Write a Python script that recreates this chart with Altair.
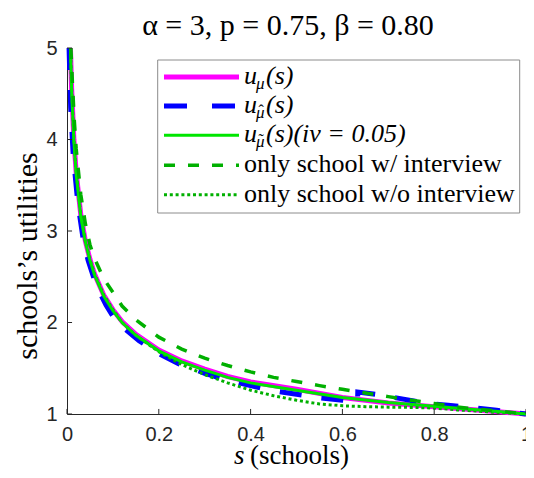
import altair as alt
import pandas as pd

# ---------------- data ----------------
s_mu = [0.0075, 0.01, 0.015, 0.02, 0.03, 0.04, 0.05, 0.06, 0.08, 0.1, 0.12, 0.15,
        0.2, 0.25, 0.3, 0.35, 0.4, 0.5, 0.6, 0.7, 0.8, 0.9, 1.0]
u_mu = [5.0, 4.57, 4.0, 3.64, 3.18, 2.89, 2.69, 2.53, 2.30, 2.14, 2.01, 1.87,
        1.70, 1.58, 1.49, 1.41, 1.35, 1.27, 1.18, 1.12, 1.08, 1.04, 1.0]

s_iv = [0.0075, 0.01, 0.015, 0.02, 0.03, 0.04, 0.05, 0.06, 0.08, 0.1, 0.12, 0.15,
        0.2, 0.25, 0.3, 0.35, 0.4, 0.5, 0.6, 0.7, 0.8, 0.9, 1.0]
u_iv = [5.0, 4.55, 3.98, 3.62, 3.16, 2.88, 2.68, 2.52, 2.29, 2.13, 2.0, 1.86,
        1.69, 1.57, 1.48, 1.40, 1.34, 1.26, 1.18, 1.125, 1.085, 1.045, 1.0]

s_hat = [0.0045, 0.008, 0.0135, 0.0235, 0.035, 0.046, 0.064, 0.085, 0.1, 0.121, 0.157,
         0.2, 0.243, 0.3, 0.343, 0.4, 0.447, 0.5, 0.547, 0.6, 0.633, 0.6335, 0.68,
         0.73, 0.78, 0.83, 0.886, 0.936, 1.0]
u_hat = [5.0, 4.35, 3.83, 3.31, 2.92, 2.68, 2.40, 2.19, 2.07, 1.95, 1.80,
         1.66, 1.55, 1.445, 1.38, 1.31, 1.255, 1.215, 1.18, 1.15, 1.13, 1.24, 1.21,
         1.165, 1.12, 1.095, 1.07, 1.04, 1.0]

s_w = [0.0085, 0.012, 0.016, 0.02, 0.03, 0.04, 0.05, 0.06, 0.08, 0.1, 0.12, 0.15,
       0.2, 0.25, 0.3, 0.35, 0.4, 0.45, 0.5, 0.55, 0.6, 0.65, 0.7, 0.75, 0.8, 0.85,
       0.9, 0.95, 1.0]
u_w = [5.0, 4.6, 4.2, 3.9, 3.4, 3.08, 2.85, 2.70, 2.48, 2.33, 2.18, 2.03,
       1.84, 1.71, 1.61, 1.53, 1.46, 1.40, 1.355, 1.31, 1.27, 1.23, 1.19, 1.15, 1.115,
       1.077, 1.05, 1.028, 1.0]

s_wo = [0.0075, 0.01, 0.015, 0.02, 0.03, 0.04, 0.05, 0.06, 0.08, 0.1, 0.12, 0.15,
        0.2, 0.25, 0.3, 0.35, 0.4, 0.45, 0.5, 0.55, 0.6, 0.65, 0.7, 0.75, 0.8, 0.85,
        0.9, 0.95, 1.0]
u_wo = [5.0, 4.57, 4.0, 3.64, 3.18, 2.89, 2.69, 2.53, 2.30, 2.14, 2.0, 1.86,
        1.68, 1.54, 1.43, 1.34, 1.26, 1.20, 1.15, 1.11, 1.09, 1.08, 1.075, 1.072,
        1.065, 1.045, 1.03, 1.014, 1.0]

x_ticks = [0, 0.2, 0.4, 0.6, 0.8, 1]
y_ticks = [1, 2, 3, 4, 5]

title_text = "α = 3,  p = 0.75,  β = 0.80"
y_title = "schools’s utilities"
legend_plain = ["only school w/ interview", "only school w/o interview"]

# ---------------- chart ----------------
W, H = 459, 366
AX = "#262626"
SERIF = "'Liberation Serif', 'DejaVu Serif', serif"
SANS = "'Liberation Sans', Arial, sans-serif"

xs = alt.Scale(domain=[0, 1], nice=False, zero=False)
ys = alt.Scale(domain=[1, 5], nice=False, zero=False)

X = alt.X("s:Q", scale=xs, axis=alt.Axis(
    values=x_ticks, format="~g", title=None, ticks=False, grid=False,
    domainColor=AX, domainWidth=1, labelFont=SANS, labelFontSize=20,
    labelColor=AX, labelPadding=10, labelFlush=False))
Y = alt.Y("u:Q", scale=ys, axis=alt.Axis(
    values=y_ticks, format="~g", title=None, ticks=False, grid=False,
    domainColor=AX, domainWidth=1, labelFont=SANS, labelFontSize=20,
    labelColor=AX, labelPadding=10, labelFlush=False))


def df(s, u):
    return pd.DataFrame({"s": s, "u": u})


MAG, BLUE, GSOL, GDARK = "#ff00ff", "#0000ff", "#00e600", "#00b000"

l_mu = alt.Chart(df(s_mu, u_mu)).mark_line(color=MAG, strokeWidth=5).encode(x=X, y=Y)
l_hat = alt.Chart(df(s_hat, u_hat)).mark_line(
    color=BLUE, strokeWidth=5, strokeDash=[22, 20]).encode(x=X, y=Y)
l_wo = alt.Chart(df(s_wo, u_wo)).mark_line(
    color=GDARK, strokeWidth=3, strokeDash=[3, 2.8]).encode(x=X, y=Y)
l_iv = alt.Chart(df(s_iv, u_iv)).mark_line(color=GSOL, strokeWidth=3).encode(x=X, y=Y)
l_w = alt.Chart(df(s_w, u_w)).mark_line(
    color=GDARK, strokeWidth=3.5, strokeDash=[11, 13]).encode(x=X, y=Y)

# inward ticks (MATLAB style)
xt = alt.Chart(pd.DataFrame({"t": x_ticks})).mark_rule(color=AX, strokeWidth=1).encode(
    x=alt.X("t:Q", scale=xs), y=alt.datum(1), y2=alt.datum(1.055))
yt = alt.Chart(pd.DataFrame({"t": y_ticks})).mark_rule(color=AX, strokeWidth=1).encode(
    y=alt.Y("t:Q", scale=ys), x=alt.datum(0), x2=alt.datum(0.011))

one = pd.DataFrame({"a": [0]})


def txt(text, x, y, size, style="normal", align="left", angle=0, baseline="alphabetic"):
    kw = dict(text=text, font=SERIF, fontSize=size, fontStyle=style, align=align,
              baseline=baseline, color="#000000")
    if angle:
        kw["angle"] = angle
    return alt.Chart(one).mark_text(**kw).encode(x=alt.value(x), y=alt.value(y))


def rule(x1, x2, y, color, width, dash=None):
    kw = dict(color=color, strokeWidth=width)
    if dash:
        kw["strokeDash"] = dash
    return alt.Chart(one).mark_rule(**kw).encode(
        x=alt.value(x1), x2=alt.value(x2), y=alt.value(y))


# legend box
box = alt.Chart(one).mark_rect(fill="white", stroke="#8c8c8c", strokeWidth=1).encode(
    x=alt.value(90.7), x2=alt.value(452.7), y=alt.value(12), y2=alt.value(165))

rows = [29, 58, 87.3, 117.3, 146.7]
LX1, LX2 = 97, 172
leg = [
    rule(LX1, LX2, rows[0], MAG, 5),
    rule(LX1, LX2, rows[1], BLUE, 5, [23, 25]),
    rule(LX1, LX2, rows[2], GSOL, 3),
    rule(LX1, LX2, rows[3], GDARK, 3.5, [11, 13]),
    rule(LX1, LX2, rows[4], GDARK, 3, [3, 2.8]),
]
TX = 177
leg_txt = []
accents = ["", "ˆ", "˜"]
tails = ["(s)", "(s)", "(s)(iv = 0.05)"]
for i in range(3):
    leg_txt.append(txt("u", TX, rows[i] + 7, 26, "italic"))
    leg_txt.append(txt("μ", TX + 12, rows[i] + 12, 17, "italic"))
    if accents[i]:
        leg_txt.append(txt(accents[i], TX + 14.5, rows[i] + 10, 16, "normal"))
    leg_txt.append(txt(tails[i], TX + 22, rows[i] + 7, 26, "italic"))
leg_txt.append(txt(legend_plain[0], TX, rows[3] + 7, 26))
leg_txt.append(txt(legend_plain[1], TX, rows[4] + 7, 26))

# titles
t_title = txt(title_text, 221, -13, 30, align="center")
t_xs = txt("s", 167, 416, 27, "italic")
t_xl = txt("(schools)", 183, 416, 27)
t_y = txt(y_title, -39, 208, 30, align="center", angle=270, baseline="middle")

chart = alt.layer(
    l_mu, l_hat, l_wo, l_iv, l_w, xt, yt, box, *leg, *leg_txt,
    t_title, t_xs, t_xl, t_y
).properties(
    width=W, height=H,
    autosize=alt.AutoSizeParams(type="none"),
    padding={"left": 59, "top": 40, "right": 0, "bottom": 56},
    background="white",
).configure_view(stroke=None)

chart.save("out.html", embed_options={"renderer": "svg", "actions": False})
